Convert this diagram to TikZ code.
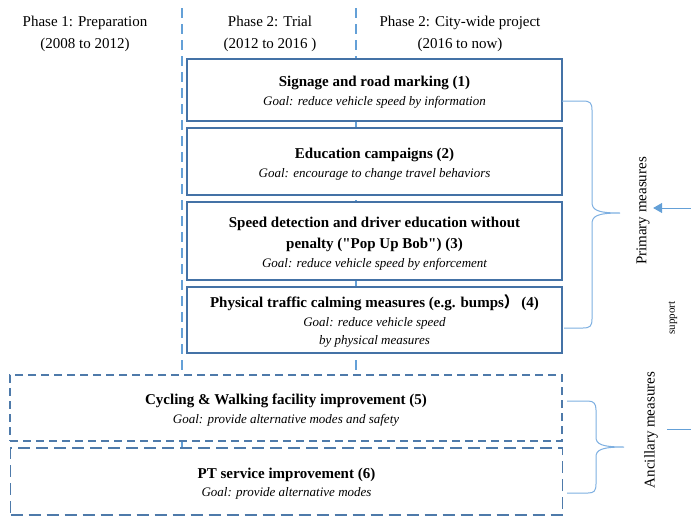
\documentclass[tikz,border=0pt]{standalone}
\usepackage{fontspec}
\setmainfont{Liberation Serif}
\newfontfamily\cjk{Noto Sans CJK SC}
\usetikzlibrary{arrows.meta}
\definecolor{boxblue}{RGB}{68,114,166}
\definecolor{dashblue}{RGB}{78,122,170}
\definecolor{phaseblue}{RGB}{100,160,215}
\definecolor{braceblue}{RGB}{125,175,225}
\tikzset{
  measure/.style={draw=boxblue, line width=1.4pt, fill=white, minimum width=375pt, align=center, inner sep=0pt, font=\fontsize{15}{19}\selectfont},
  ancillary/.style={draw=dashblue, fill=white, minimum width=552pt, align=center, inner sep=0pt, font=\fontsize{15}{18.5}\selectfont},
  phaseline/.style={draw=phaseblue, line width=1.3pt, dash pattern=on 10pt off 6pt},
  phasetext/.style={align=center, font=\fontsize{15}{22}\selectfont},
  bracepath/.style={draw=braceblue, line width=1pt},
  sidetext/.style={rotate=90, font=\fontsize{15}{18}\selectfont},
}
% first line of a box carries a tall strut so the text block sits a little lower
\newcommand{\boxtitle}[1]{{\bfseries\rule{0pt}{15pt}#1}}
\newcommand{\boxline}[1]{{\bfseries #1}}
\newcommand{\goal}[1]{{\fontsize{13}{19}\selectfont\itshape #1}}
\begin{document}
\begin{tikzpicture}[x=1pt, y=-1pt]
\useasboundingbox (0,0) rectangle (691,517);

% phase headers
\node[phasetext] (p1) at (85,34) {Phase 1: Preparation\\(2008 to 2012)};
\node[phasetext] (p2) at (270,34) {Phase 2: Trial\\(2012 to 2016 )};
\node[phasetext] (p3) at (460,34) {Phase 2: City-wide project\\(2016 to now)};

% phase boundaries
\coordinate (ltop) at (182,8);
\coordinate (lbot) at (182,448);
\coordinate (mtop) at (356,8);
\coordinate (mbot) at (356,375);
\draw[phaseline] (ltop) -- (lbot);
\draw[phaseline] (mtop) -- (mbot);

% primary measures
\node[measure, minimum height=62pt] (m1) at (374.5,90)
  {\boxtitle{Signage and road marking (1)}\\\goal{Goal: reduce vehicle speed by information}};
\node[measure, minimum height=67pt] (m2) at (374.5,161.5)
  {\boxtitle{Education campaigns (2)}\\\goal{Goal: encourage to change travel behaviors}};
\node[measure, minimum height=78pt] (m3) at (374.5,241)
  {\boxtitle{Speed detection and driver education without}\\[2pt]\boxline{penalty (\textquotedbl Pop Up Bob\textquotedbl) (3)}\\\goal{Goal: reduce vehicle speed by enforcement}};
\node[measure, minimum height=66pt] (m4) at (374.5,320)
  {\boxtitle{Physical traffic calming measures (e.g. bumps{\cjk ）}\,(4)}\\\goal{Goal: reduce vehicle speed}\\[-1pt]\goal{by physical measures}};

% ancillary measures
\node[ancillary, line width=1.4pt, dash pattern=on 8pt off 5pt, minimum height=66pt] (a5) at (286,408)
  {\boxtitle{Cycling \& Walking facility improvement (5)}\\\goal{Goal: provide alternative modes and safety}};
\node[ancillary, line width=1.8pt, dash pattern=on 12pt off 6pt, minimum height=67pt] (a6) at (286.5,481.5)
  {\boxtitle{PT service improvement (6)}\\\goal{Goal: provide alternative modes}};

% braces
\draw[bracepath] (562,101) -- (583,101) .. controls (590,101) and (592,103) .. (592,110)
  -- (592,202) .. controls (592,210) and (597,213) .. (620,213)
  .. controls (597,213) and (592,216) .. (592,224)
  -- (592,319) .. controls (592,326) and (590,328) .. (583,328) -- (564,328);
\draw[bracepath] (567,401) -- (588,401) .. controls (594,401) and (596,404) .. (596,410)
  -- (596,437) .. controls (596,444) and (601,447) .. (624,447)
  .. controls (601,447) and (596,450) .. (596,457)
  -- (596,484) .. controls (596,491) and (594,493) .. (588,493) -- (567,493);

% side labels
\node[sidetext] (prim) at (643,211) {Primary measures};
\node[sidetext] (anc) at (651,430) {Ancillary measures};
\node[rotate=90, font=\fontsize{11}{13}\selectfont] (sup) at (673,318) {support};

\coordinate (ain) at (691,208);
\coordinate (lin) at (691,429);
\draw[draw=phaseblue, line width=1pt, -{Triangle[length=9pt,width=10pt]}] (ain) -- (prim.south |- ain);
\draw[draw=phaseblue, line width=1pt] (lin) -- (667,429);
\end{tikzpicture}
\end{document}
